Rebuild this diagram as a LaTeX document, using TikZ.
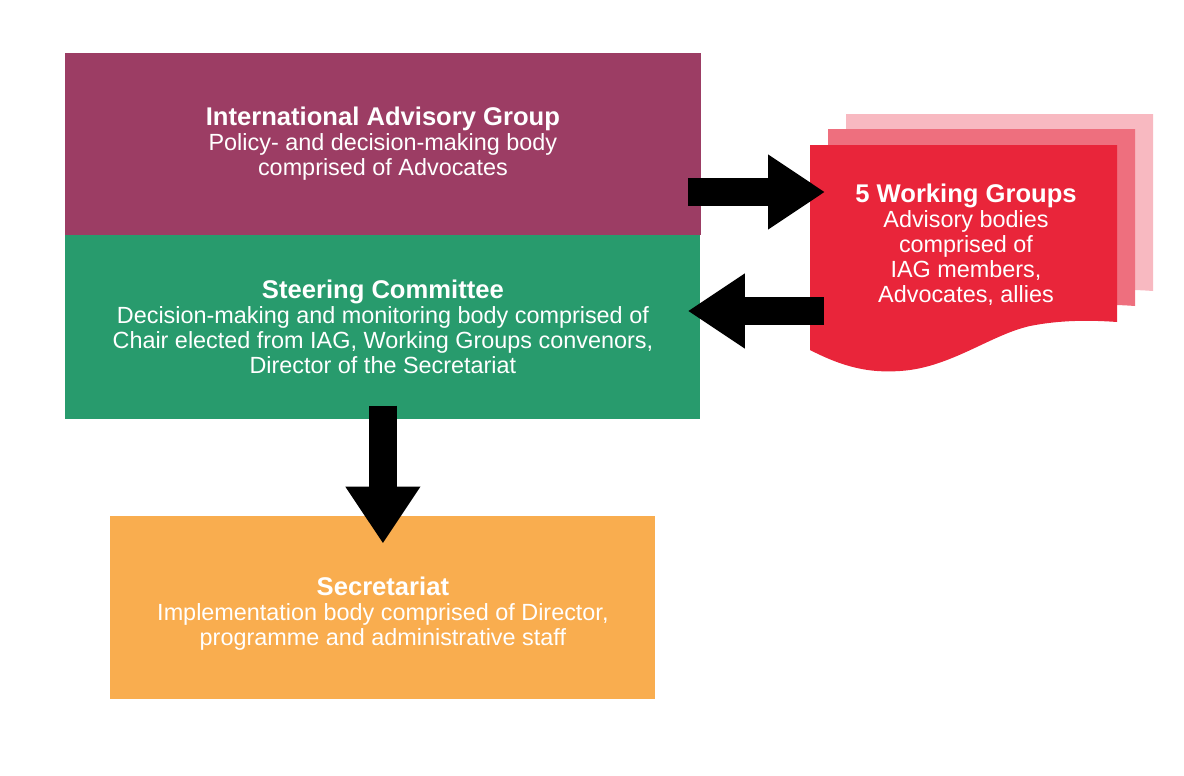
\documentclass[tikz,border=0pt]{standalone}
\usepackage{fontspec}
\setmainfont{Liberation Sans}
\usetikzlibrary{arrows.meta, positioning, calc}

\definecolor{iagcol}{HTML}{9C3D64}
\definecolor{sccol}{HTML}{289B6D}
\definecolor{seccol}{HTML}{F9AD4F}
\definecolor{wgcol}{HTML}{E9253A}
\definecolor{wgmid}{HTML}{EE6F7E}
\definecolor{wgback}{HTML}{F8B9C1}
\newcommand{\boxtitle}[1]{{\fontsize{12.8}{12.5}\selectfont\bfseries #1}}

\begin{document}
\begin{tikzpicture}[
  x=0.5pt, y=-0.5pt,
  box/.style={rectangle, inner sep=0pt, minimum width=317.5pt, align=center,
              text=white, font=\fontsize{11.7}{12.5}\selectfont},
  blockarr/.style={line width=14pt, -{Triangle[length=28.5pt, width=35.5pt]}}
]
  \useasboundingbox (0,0) rectangle (1184,776);

  \node[box, fill=iagcol, draw=iagcol, line width=0.4pt, minimum height=90.5pt, anchor=north west] (iag) at (65,53)
    {\boxtitle{International Advisory Group}\\Policy- and decision-making body\\comprised of Advocates};
  \node[box, fill=sccol, minimum height=92pt, below=0pt of iag] (sc)
    {\boxtitle{Steering Committee}\\Decision-making and monitoring body comprised of\\Chair elected from IAG, Working Groups convenors,\\Director of the Secretariat};
  \node[box, fill=seccol, minimum width=272.5pt, minimum height=91.5pt, below=48pt of sc] (sec)
    {\rule{0pt}{15pt}\boxtitle{Secretariat}\\Implementation body comprised of Director,\\programme and administrative staff};

  \foreach \dx/\dy/\col in {36/-31/wgback, 18/-16/wgmid, 0/0/wgcol}
    \fill[\col, shift={(\dx,\dy)}] (810,145) -- (1117,145) -- (1117,322)
      .. controls (1090,320) and (1060,320) .. (1030,326)
      .. controls (990,335) and (950,368) .. (900,371)
      .. controls (870,373) and (845,368) .. (810,350) -- cycle;
  \node[box, minimum width=0pt] (wg) at (966,245)
    {\boxtitle{5 Working Groups}\\Advisory bodies\\comprised of\\IAG members,\\Advocates, allies};

  \coordinate (wgin) at (825,192);
  \coordinate (wgout) at (824,311);
  \draw[blockarr] ($(iag.east |- wgin)+(-13,0)$) -- (wgin);
  \draw[blockarr] (wgout) -- ($(sc.east |- wgout)+(-13,0)$);
  \draw[blockarr] ($(sc.south)+(0,-14)$) -- ($(sec.north)+(0,28)$);
\end{tikzpicture}
\end{document}
